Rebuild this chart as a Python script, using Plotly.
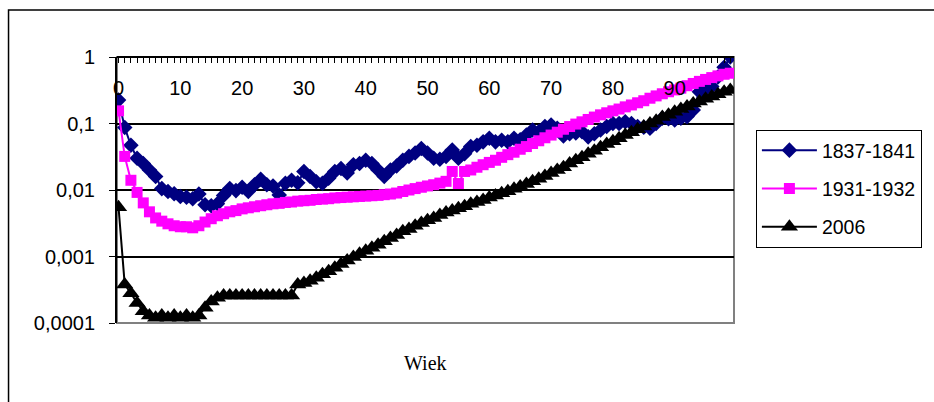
import plotly.graph_objects as go

ages = list(range(0, 100))

series_1837 = [
    0.225, 0.087, 0.047, 0.030, 0.025, 0.020, 0.016, 0.0105, 0.0095, 0.0088,
    0.0080, 0.0078, 0.0074, 0.0087, 0.0060, 0.0058, 0.0062, 0.0083, 0.0105, 0.0098,
    0.0110, 0.0095, 0.0120, 0.0145, 0.0120, 0.0115, 0.0084, 0.0126, 0.0140, 0.0128,
    0.0190, 0.0160, 0.0133, 0.0126, 0.0150, 0.0190, 0.0210, 0.0180, 0.0240, 0.0250,
    0.0280, 0.0250, 0.0200, 0.0160, 0.0200, 0.0230, 0.0280, 0.0320, 0.0360, 0.0420,
    0.0360, 0.0300, 0.0290, 0.0320, 0.0400, 0.0300, 0.0350, 0.0450, 0.0470, 0.0530,
    0.0600, 0.0530, 0.0560, 0.0530, 0.0600, 0.0570, 0.0670, 0.0800, 0.0750, 0.0900,
    0.0950, 0.0850, 0.0650, 0.0700, 0.0720, 0.0750, 0.0630, 0.0700, 0.0800, 0.0900,
    0.1000, 0.1000, 0.1060, 0.1000, 0.0900, 0.0880, 0.0850, 0.1000, 0.1200, 0.1180,
    0.1130, 0.1200, 0.1270, 0.1600, 0.3000, 0.3300, 0.3600, 0.5000, 0.7000, 1.0000,
]

series_1931 = [
    0.155, 0.032, 0.014, 0.0092, 0.0064, 0.0047, 0.0038, 0.0034, 0.0031, 0.0029,
    0.0028, 0.0028, 0.0027, 0.0029, 0.0033, 0.0037, 0.0041, 0.0044, 0.0047, 0.0049,
    0.0052, 0.0054, 0.0056, 0.0058, 0.0060, 0.0062, 0.0063, 0.0065, 0.0066, 0.0068,
    0.0069, 0.0070, 0.0072, 0.0073, 0.0074, 0.0076, 0.0077, 0.0078, 0.0079, 0.0080,
    0.0081, 0.0082, 0.0083, 0.0085, 0.0087, 0.0090, 0.0095, 0.0100, 0.0105, 0.0110,
    0.0115, 0.0120, 0.0127, 0.0135, 0.0190, 0.0125, 0.0190, 0.0200, 0.0220, 0.0240,
    0.0260, 0.0280, 0.0310, 0.0340, 0.0370, 0.0410, 0.0450, 0.0500, 0.0550, 0.0610,
    0.0670, 0.0740, 0.0820, 0.0900, 0.0980, 0.1060, 0.1150, 0.1250, 0.1350, 0.1450,
    0.1550, 0.1650, 0.1780, 0.1900, 0.2050, 0.2200, 0.2400, 0.2600, 0.2800, 0.3000,
    0.3200, 0.3400, 0.3700, 0.4000, 0.4300, 0.4600, 0.4900, 0.5200, 0.5500, 0.5700,
]

series_2006 = [
    0.0055, 0.00038, 0.00028, 0.00020, 0.00015, 0.00013, 0.00012, 0.00013, 0.00012, 0.00013,
    0.00012, 0.00013, 0.00012, 0.00013, 0.00017, 0.00021, 0.00024, 0.00026, 0.00026, 0.00026,
    0.00026, 0.00026, 0.00026, 0.00026, 0.00026, 0.00026, 0.00026, 0.00026, 0.00026, 0.00038,
    0.00040, 0.00043, 0.00048, 0.00054, 0.00060, 0.00068, 0.00077, 0.00087, 0.00098, 0.00110,
    0.00122, 0.00135, 0.00150, 0.00170, 0.00190, 0.00210, 0.00240, 0.00260, 0.00290, 0.00320,
    0.00350, 0.00380, 0.00420, 0.00460, 0.00490, 0.00530, 0.00570, 0.00620, 0.00660, 0.00710,
    0.00770, 0.00830, 0.00890, 0.00960, 0.01040, 0.01130, 0.01230, 0.01350, 0.01480, 0.01630,
    0.0180, 0.0200, 0.0220, 0.0250, 0.0280, 0.0310, 0.0350, 0.0390, 0.0440, 0.0490,
    0.0540, 0.0600, 0.0670, 0.0740, 0.0820, 0.0900, 0.1000, 0.1100, 0.1250, 0.1350,
    0.1500, 0.1650, 0.1800, 0.2000, 0.2150, 0.2350, 0.2550, 0.2750, 0.3000, 0.3200,
]

series_names = ["1837-1841", "1931-1932", "2006"]
y_tick_values = [0.0001, 0.001, 0.01, 0.1, 1]
y_tick_labels = ["0,0001", "0,001", "0,01", "0,1", "1"]
x_title = "Wiek"

FONT = "Arial, Liberation Sans, sans-serif"

fig = go.Figure()

styles = [
    dict(color="#000080", symbol="diamond", size=12, lw=2),
    dict(color="#FF00FF", symbol="square", size=11, lw=2),
    dict(color="#000000", symbol="triangle-up", size=15, lw=2),
]
for name, vals, st in zip(series_names, [series_1837, series_1931, series_2006], styles):
    fig.add_trace(go.Scatter(
        x=ages, y=vals, name=name, mode="lines+markers",
        legendgroup=name,
        line=dict(color=st["color"], width=st["lw"]),
        marker=dict(color=st["color"], symbol=st["symbol"], size=st["size"],
                    line=dict(width=0)),
    ))

fig.update_layout(
    width=934, height=402,
    margin=dict(l=117, r=197, t=57, b=79),
    paper_bgcolor="white", plot_bgcolor="white",
    font=dict(family=FONT, size=20, color="black"),
    showlegend=True,
    legend=dict(
        x=1.0355, y=0.7256, xanchor="left", yanchor="top",
        bordercolor="black", borderwidth=1, bgcolor="white",
        font=dict(family=FONT, size=19.5, color="black"),
        tracegroupgap=10,
        itemwidth=55,
    ),
    xaxis=dict(
        range=[-0.25, 99.6],
        anchor="free", position=1, side="bottom",
        showline=True, linecolor="black", linewidth=2,
        showgrid=False, zeroline=False,
        dtick=10, tick0=0,
        ticks="outside", ticklen=5, tickcolor="black", tickwidth=1,
        minor=dict(dtick=1, ticks="outside", ticklen=5, tickcolor="black", tickwidth=1, showgrid=False),
        ticklabelstandoff=8,
        tickfont=dict(family=FONT, size=20, color="black"),
    ),
    yaxis=dict(
        type="log",
        range=[-4, 0],
        tickvals=y_tick_values, ticktext=y_tick_labels,
        showline=True, linecolor="black", linewidth=2,
        showgrid=True, gridcolor="black", gridwidth=1.5,
        ticks="outside", ticklen=6, tickcolor="black", tickwidth=1,
        ticklabelstandoff=10,
        tickfont=dict(family=FONT, size=20, color="black"),
        zeroline=False,
    ),
    shapes=[
        dict(type="rect", xref="paper", yref="paper", x0=0, x1=1, y0=0, y1=1,
             line=dict(color="#808080", width=2), fillcolor="rgba(0,0,0,0)", layer="between"),
        dict(type="rect", xref="paper", yref="paper", x0=-0.1758, x1=1.4, y0=-0.5, y1=1.1767,
             line=dict(color="black", width=1.5), fillcolor="rgba(0,0,0,0)", layer="below"),
    ],
    annotations=[
        dict(text=x_title, xref="paper", yref="paper", x=0.5, y=-0.15,
             xanchor="center", yanchor="middle", showarrow=False,
             font=dict(family="Times New Roman, Liberation Serif, serif", size=20, color="black")),
    ],
)

fig.write_html("out.html", config={"displayModeBar": False},
               post_script="document.body.style.margin='0';")
